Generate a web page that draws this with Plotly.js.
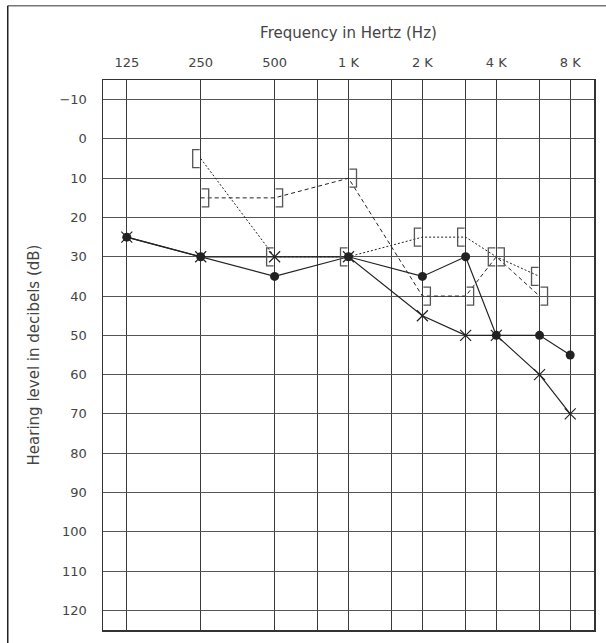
<!DOCTYPE html>
<html>
<head>
<meta charset="utf-8">
<script src="https://cdn.plot.ly/plotly-3.0.1.min.js"></script>
<style>html,body{margin:0;padding:0;background:#fff;}#chart{width:606px;height:643px;}</style>
</head>
<body>
<div id="chart"></div>
<script>
// Air conduction
const freqs = [125, 250, 500, 1000, 2000, 3000, 4000, 6000, 8000];
const airCircle = [25, 30, 35, 30, 35, 30, 50, 50, 55];
const airCross = [25, 30, 30, 30, 45, 50, 50, 60, 70];
// Masked bone conduction
const bcFreqs = [250, 500, 1000, 2000, 3000, 4000, 6000];
const bcLeftBracket = [5, 30, 30, 25, 25, 30, 35];   // "[" dotted
const bcRightBracket = [15, 15, 10, 40, 40, 30, 40]; // "]" dashed
// Axes
const xTickVals = [125, 250, 500, 750, 1000, 1500, 2000, 3000, 4000, 6000, 8000];
const xTickText = ['125', '250', '500', '', '1 K', '', '2 K', '', '4 K', '', '8 K'];
const yTickVals = [-10, 0, 10, 20, 30, 40, 50, 60, 70, 80, 90, 100, 110, 120];

const ink = '#222';
const traces = [
  {x: bcFreqs, y: bcLeftBracket, mode: 'lines', line: {color: ink, width: 1, dash: '2px,2px'}, hoverinfo: 'skip'},
  {x: bcFreqs, y: bcRightBracket, mode: 'lines', line: {color: ink, width: 1, dash: '4px,3px'}, hoverinfo: 'skip'},
  {x: freqs, y: airCross, mode: 'lines+markers', line: {color: ink, width: 1.2},
   marker: {symbol: 'x-thin-open', size: 11, color: ink, line: {color: ink, width: 1.2}}},
  {x: freqs, y: airCircle, mode: 'lines+markers', line: {color: ink, width: 1.2},
   marker: {symbol: 'circle', size: 9, color: ink}}
];

const bracketColor = '#555';
const shapes = [];
bcFreqs.forEach((f, i) => {
  shapes.push({type: 'path', xref: 'x', yref: 'y', xsizemode: 'pixel', ysizemode: 'pixel',
    xanchor: f, yanchor: bcLeftBracket[i], path: 'M -1,9 L -8,9 L -8,-9 L -1,-9',
    line: {color: bracketColor, width: 1.3}});
  shapes.push({type: 'path', xref: 'x', yref: 'y', xsizemode: 'pixel', ysizemode: 'pixel',
    xanchor: f, yanchor: bcRightBracket[i], path: 'M 1,9 L 8,9 L 8,-9 L 1,-9',
    line: {color: bracketColor, width: 1.3}});
});
// outer frame (top and left)
shapes.push({type: 'line', xref: 'paper', yref: 'paper', x0: -0.194, x1: 1.05, y0: 1.135, y1: 1.135, line: {color: '#777', width: 1.5}});
shapes.push({type: 'line', xref: 'paper', yref: 'paper', x0: -0.194, x1: -0.194, y0: 1.135, y1: -0.05, line: {color: '#222', width: 1.5}});

const layout = {
  width: 606, height: 643,
  margin: {l: 103, r: 12, t: 80, b: 13},
  paper_bgcolor: '#fff', plot_bgcolor: '#fff',
  showlegend: false,
  font: {family: '"DejaVu Sans", sans-serif', size: 13, color: '#444'},
  xaxis: {
    type: 'log', range: [2, 4], side: 'top',
    tickvals: xTickVals, ticktext: xTickText, ticks: '', ticklabelstandoff: 6,
    showgrid: true, gridcolor: '#3a3a3a', gridwidth: 1,
    showline: true, mirror: true, linecolor: '#333', linewidth: 1.5,
    zeroline: false, fixedrange: true,
    title: {text: 'Frequency in Hertz (Hz)', standoff: 13, font: {size: 15, color: '#444'}}
  },
  yaxis: {
    range: [125, -15], tickvals: yTickVals, ticks: '', ticklabelstandoff: 12,
    showgrid: true, gridcolor: '#555', gridwidth: 1,
    showline: true, mirror: true, linecolor: '#333', linewidth: 1.5,
    zeroline: false, fixedrange: true,
    title: {text: 'Hearing level in decibels (dB)', standoff: 16, font: {size: 15, color: '#444'}}
  },
  shapes: shapes
};

Plotly.newPlot('chart', traces, layout, {displayModeBar: false, staticPlot: true});
</script>
</body>
</html>
